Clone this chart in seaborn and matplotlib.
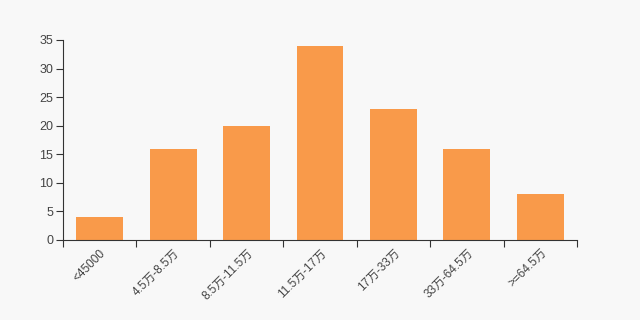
import matplotlib
matplotlib.use("Agg")
import matplotlib.pyplot as plt
import seaborn as sns
import pandas as pd
import numpy as np

categories = ["<45000", "4.5万-8.5万", "8.5万-11.5万", "11.5万-17万", "17万-33万", "33万-64.5万", ">=64.5万"]
values = [4, 16, 20, 34, 23, 16, 8]

sns.set_style("white")
plt.rcParams['font.family'] = ['Liberation Sans', 'Noto Sans CJK SC', 'DejaVu Sans']

bg = "#f8f8f8"
fig = plt.figure(figsize=(6.4, 3.2), dpi=100, facecolor=bg)
ax = fig.add_axes([0.0984, 0.25, 0.8032, 0.625])
ax.set_facecolor(bg)

df = pd.DataFrame({"cat": categories, "val": values})
sns.barplot(data=df, x="cat", y="val", color="#f99a4a", saturation=1, width=0.64,
            linewidth=0, edgecolor="none", ax=ax)

n = len(categories)
ax.set_xlim(-0.5, n - 0.5)
ax.set_ylim(0, 35)
ax.set_yticks(np.arange(0, 36, 5))
ax.set_xticks(np.arange(-0.5, n, 1))
ax.set_xticklabels([])
ax.set_xticks(np.arange(n), minor=True)
ax.set_xticklabels(categories, minor=True, rotation=45, ha="right", rotation_mode="anchor")
ax.tick_params(axis="x", which="major", bottom=True, length=5, direction="out", color="#333333", width=0.8)
ax.tick_params(axis="x", which="minor", bottom=True, length=0, pad=5, labelsize=8.5, labelcolor="#444444")
ax.tick_params(axis="y", left=True, length=5, direction="out", color="#333333", width=0.8,
               labelsize=9, labelcolor="#444444", pad=2)
ax.set_xlabel("")
ax.set_ylabel("")
for s in ["top", "right"]:
    ax.spines[s].set_visible(False)
for s in ["left", "bottom"]:
    ax.spines[s].set_color("#333333")
    ax.spines[s].set_linewidth(0.8)

fig.savefig("out.png", dpi=100, facecolor=bg)
